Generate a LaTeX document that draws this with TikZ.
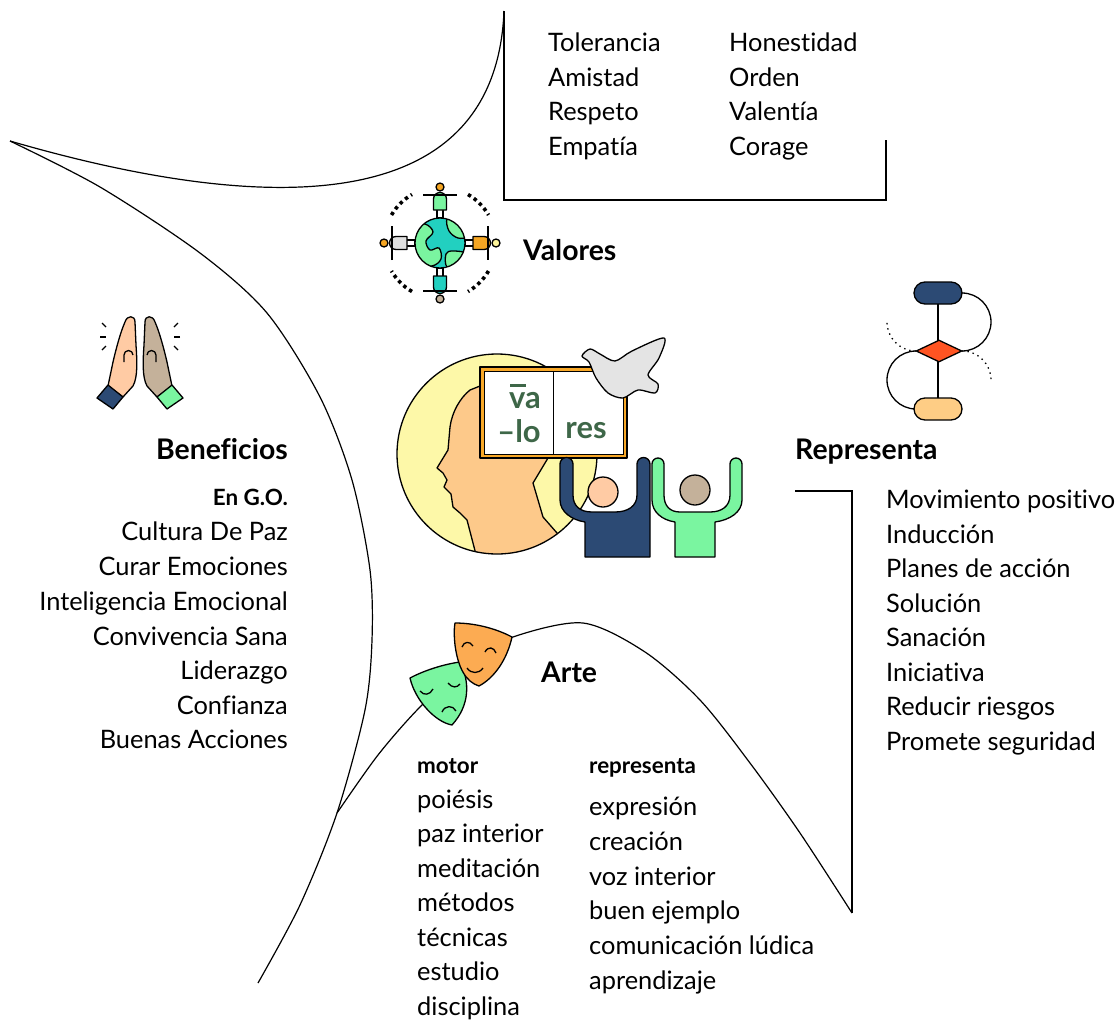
\documentclass[tikz,border=0pt]{standalone}
\usepackage{fontspec}
\setmainfont{Lato}[Ligatures=NoCommon]
\usetikzlibrary{positioning,calc,shapes.geometric,shapes.misc}

\definecolor{navy}{HTML}{2C4A74}
\definecolor{peach}{HTML}{FFCBA4}
\definecolor{khaki}{HTML}{C4B19A}
\definecolor{mint}{HTML}{7AF5A0}
\definecolor{amber}{HTML}{F8A828}
\definecolor{maskor}{HTML}{FCAB52}
\definecolor{sea}{HTML}{22D0C0}
\definecolor{skin}{HTML}{FDC98A}
\definecolor{halo}{HTML}{FDF8A8}
\definecolor{dovegray}{HTML}{E4E4E4}
\definecolor{flame}{HTML}{FF5422}
\definecolor{sand}{HTML}{FECD85}
\definecolor{leaf}{HTML}{3E6748}
\definecolor{lemon}{HTML}{FDF59A}
\definecolor{ash}{HTML}{E0E0E0}
\definecolor{pinor}{HTML}{F5A623}

\tikzset{
	ink/.style={draw=black, line width=1.3bp, line join=round},
	pics/globepin/.style 2 args={code={
		\draw[ink, fill=white] (-3,-25) rectangle (3,-34);
		\draw[ink, fill=#1] (-6.5,-33) -- (-6.5,-44) arc[start angle=180, end angle=360, radius=6.5] -- (6.5,-33) -- cycle;
		\draw[ink] (-17,-48) -- (17,-48);
		\draw[ink, fill=#2] (0,-56) circle[radius=4];
	}},
}

\begin{document}
\begin{tikzpicture}[x=1bp, y=-1bp]
	\tikzstyle{every node}=[inner sep=0pt]
	\tikzstyle{entry}=[anchor=mid west, yshift=-6bp, font=\fontsize{25.5}{30}\selectfont]
	\tikzstyle{entryr}=[anchor=mid east, yshift=-6bp, font=\fontsize{25.5}{30}\selectfont]
	\tikzstyle{title}=[yshift=-7bp, font=\fontsize{28.5}{32}\selectfont\bfseries]
	\tikzstyle{subtitle}=[yshift=-5bp, font=\fontsize{22.5}{26}\selectfont\bfseries]
	\tikzstyle{bookword}=[font=\fontsize{31}{33}\selectfont\bfseries, text=leaf]
	\tikzstyle{thin}=[line width=1.2bp]

	\useasboundingbox (0,0) rectangle (1116,1020);

	% frame lines
	\coordinate (tip)     at (10,141);
	\coordinate (boxtop)  at (504,11);
	\coordinate (boxbl)   at (504,200);
	\coordinate (boxbr)   at (886,200);
	\coordinate (boxend)  at (886,140);
	\coordinate (artbeg)  at (337,813);
	\coordinate (artend)  at (852,913);
	\coordinate (repcor)  at (852,491);
	\coordinate (repstub) at (795,491);

	\draw [thin] (tip) .. controls (230,205) and (495,235) .. (boxtop);
	\draw [thin] (boxtop) -- (boxbl) -- (boxbr) -- (boxend);
	\draw [thin] plot[smooth] coordinates {(tip) (100,187) (200,253) (267,313) (320,397) (352,480) (370,570) (372,640) (365,710) (artbeg) (300,905) (258,983)};
	\draw [thin] plot[smooth] coordinates {(artbeg) (378,755) (420,707) (470,662) (513,637) (583,623) (645,652) (700,700) (750,763) (800,833) (artend)};
	\draw [thin] (artend) -- (repcor) -- (repstub);

	% valores list
	\node[entry] (tol) at (548,43)  {Tolerancia};
	\node[entry] (ami) at (548,78)  {Amistad};
	\node[entry] (res) at (548,112) {Respeto};
	\node[entry] (emp) at (548,147) {Empatía};
	\node[entry] (hon) at (729,43)  {Honestidad};
	\node[entry] (ord) at (729,78)  {Orden};
	\node[entry] (val) at (729,112) {Valentía};
	\node[entry] (cor) at (729,147) {Corage};

	% globe
	\coordinate (gc) at (440,243);
	\foreach \a in {30,120,210,300}
		\draw[line width=3.6bp, dash pattern=on 3.4bp off 3.6bp] ($(gc)+(\a:56)$) arc[start angle=\a, end angle=\a+30, radius=56];
	\pic[rotate=0]   at (gc) {globepin={mint}{pinor}};
	\pic[rotate=-90] at (gc) {globepin={pinor}{lemon}};
	\pic[rotate=180] at (gc) {globepin={sea}{khaki}};
	\pic[rotate=90]  at (gc) {globepin={ash}{pinor}};
	\node[circle, fill=sea, minimum size=50bp] (globe) at (gc) {};
	\begin{scope}
		\clip (gc) circle[radius=25];
		\draw[ink, fill=mint] plot[smooth cycle, tension=0.6] coordinates {(410,226) (425,224) (433,232) (426,241) (430,250) (439,248) (441,259) (432,266) (416,264) (410,246)};
		\draw[ink, fill=mint] plot[smooth cycle, tension=0.6] coordinates {(447,219) (449,231) (458,238) (468,236) (467,224) (456,218)};
		\draw[ink, fill=mint] plot[smooth cycle, tension=0.6] coordinates {(446,254) (453,251) (467,254) (460,267) (447,267)};
	\end{scope}
	\draw[ink] (gc) circle[radius=25];
	\node[title, anchor=mid west] (valores) at (523,251) {Valores};

	% hands
	\coordinate (hands) at (140,360);
	\foreach \s in {1,-1}{
		\begin{scope}[shift={(140,0)}, xscale=\s]
			\draw[ink, line width=1.2bp] (-38,323) -- (-34,327);
			\draw[ink, line width=1.2bp] (-40,337) -- (-34,337);
			\draw[ink, line width=1.2bp] (-38,350) -- (-34,346);
		\end{scope}
	}
	\draw[ink, fill=peach] (108,386) -- (113,362) .. controls (117,345) and (121,331) .. (125,322) .. controls (127,315) and (135,315) .. (135,322) -- (136,345) .. controls (137,360) and (138,377) .. (133,386) -- (123,397) -- cycle;
	\draw[ink] (124,362) -- (124,355) arc[start angle=180, end angle=360, radius=4.5];
	\draw[ink, fill=navy] (97,398) -- (108,385) -- (123,397) -- (113,409) -- cycle;
	\begin{scope}[shift={(280,0)}, xscale=-1]
		\draw[ink, fill=khaki] (108,386) -- (113,362) .. controls (117,345) and (121,331) .. (125,322) .. controls (127,315) and (135,315) .. (135,322) -- (136,345) .. controls (137,360) and (138,377) .. (133,386) -- (123,397) -- cycle;
		\draw[ink] (124,362) -- (124,355) arc[start angle=180, end angle=360, radius=4.5];
		\draw[ink, fill=mint] (97,398) -- (108,385) -- (123,397) -- (113,409) -- cycle;
	\end{scope}

	% beneficios list
	\node[title, anchor=mid east] (ben) at (288,450) {Beneficios};
	\node[subtitle, anchor=mid east] (engo) at (288,498) {En G.O.};
	\node[entryr] (cdp) at (288,532) {Cultura De Paz};
	\node[entryr] (cem) at (288,567) {Curar Emociones};
	\node[entryr] (iem) at (288,602) {Inteligencia Emocional};
	\node[entryr] (cvs) at (288,637) {Convivencia Sana};
	\node[entryr] (lid) at (288,671) {Liderazgo};
	\node[entryr] (con) at (288,706) {Confianza};
	\node[entryr] (bac) at (288,740) {Buenas Acciones};

	% flow chart
	\draw[ink] (962,293) arc[start angle=-90, end angle=90, radius=29];
	\draw[ink] (916,351) arc[start angle=-90, end angle=-270, radius=29];
	\draw[line width=1.3bp, dash pattern=on 1.4bp off 4bp] (916,351) arc[start angle=90, end angle=180, radius=29];
	\draw[line width=1.3bp, dash pattern=on 1.4bp off 4bp] (962,351) arc[start angle=-90, end angle=0, radius=29];
	\draw[ink] (938,293) -- (938,409);
	\node[ink, rounded rectangle, fill=navy, minimum width=48bp, minimum height=22bp] (fstart) at (938,293) {};
	\node[ink, diamond, aspect=2.1, fill=flame, minimum width=46bp, minimum height=22bp] (fdec) at (939,351) {};
	\node[ink, rounded rectangle, fill=sand, minimum width=48bp, minimum height=22bp] (fend) at (938,409) {};

	% representa list
	\node[title, anchor=mid west] (rep) at (795,450) {Representa};
	\node[entry] (mov) at (886,500) {Movimiento positivo};
	\node[entry] (ind) at (886,535) {Inducción};
	\node[entry] (pla) at (886,569) {Planes de acción};
	\node[entry] (sol) at (886,604) {Solución};
	\node[entry] (san) at (886,638) {Sanación};
	\node[entry] (ini) at (886,673) {Iniciativa};
	\node[entry] (red) at (886,707) {Reducir riesgos};
	\node[entry] (pro) at (886,742) {Promete seguridad};

	% head, book and people
	\coordinate (sun) at (497,454);
	\fill[halo] (sun) circle[radius=100];
	\begin{scope}
		\clip (sun) circle[radius=100];
		\draw[ink, fill=skin] (548,458) -- (540,420) -- (490,382) -- (470,390) .. controls (460,398) and (452,412) .. (450,427) -- (448,450) -- (437,468) -- (443,473) -- (447,480) -- (444,487) -- (451,494) -- (453,507) -- (460,513) -- (467,520) -- (473,543) -- (480,570) -- (580,570) -- (557,533) -- (543,517) -- (533,483) -- cycle;
	\end{scope}
	\draw[ink] (sun) circle[radius=100];

	\draw[ink, fill=amber] (480,367) rectangle (627,458);
	\draw[line width=0.8bp, fill=white] (484,371) rectangle (553,454);
	\draw[line width=0.8bp, fill=white] (553,371) rectangle (623,454);
	\node[bookword] (va) at (525,401) {va};
	\draw[leaf, line width=2.5bp] ($(va.north west)+(1,-7)$) -- ++(16,0);
	\node[bookword] (lo) at (519,431) {–lo};
	\node[bookword] (res) at (586,431) {res};

	\draw[ink, fill=dovegray] plot[smooth cycle, tension=0.5] coordinates {(582,356) (590,349) (600,354) (615,361) (632,351) (664,338) (659,358) (648,375) (658,384) (655,393) (638,390) (623,398) (608,393) (596,378) (589,362)};

	\draw[ink, fill=navy] (560,464) -- (560,500) .. controls (560,512) and (572,520) .. (585,522) -- (585,557) -- (650,557) -- (650,464) arc[start angle=0, end angle=-180, radius=6.5] -- (637,495) .. controls (637,506) and (628,512) .. (615,512) -- (592,512) .. controls (580,512) and (573,506) .. (573,495) -- (573,464) arc[start angle=0, end angle=-180, radius=6.5] -- cycle;
	\draw[ink, fill=peach] (603,492) circle[radius=15];
	\draw[ink, fill=mint] (652,464) -- (652,500) .. controls (652,512) and (662,520) .. (675,522) -- (675,557) -- (715,557) -- (715,522) .. controls (730,520) and (742,512) .. (742,500) -- (742,464) arc[start angle=0, end angle=-180, radius=6] -- (730,495) .. controls (730,506) and (722,512) .. (710,512) -- (680,512) .. controls (670,512) and (664,506) .. (664,495) -- (664,464) arc[start angle=0, end angle=-180, radius=6] -- cycle;
	\draw[ink, fill=khaki] (695,490) circle[radius=15];

	% masks
	\draw[ink, fill=mint] (410,678) .. controls (425,670) and (445,664) .. (460,662) .. controls (470,682) and (470,705) .. (452,725) .. controls (435,722) and (415,700) .. (410,678) -- cycle;
	\draw[ink] (420,691) .. controls (424,696) and (430,695) .. (433,689);
	\draw[ink] (448,683) .. controls (452,688) and (457,688) .. (460,684);
	\draw[ink] (442,712) .. controls (445,705) and (453,705) .. (456,711);
	\draw[ink, fill=maskor] (455,623) .. controls (474,623) and (495,628) .. (512,637) .. controls (507,660) and (494,678) .. (479,686) .. controls (466,682) and (458,668) .. (455,645) .. controls (454,635) and (454,628) .. (455,623) -- cycle;
	\draw[ink] (462,647) .. controls (464,641) and (470,641) .. (473,646);
	\draw[ink] (485,652) .. controls (488,646) and (494,647) .. (496,653);
	\draw[ink] (467,668) .. controls (471,674) and (479,674) .. (483,668);

	% arte lists
	\node[title, anchor=mid west] (arte) at (541,673) {Arte};
	\node[subtitle, anchor=mid west] (mot) at (417,766) {motor};
	\node[entry] (poi) at (417,800)  {poiésis};
	\node[entry] (paz) at (417,834)  {paz interior};
	\node[entry] (med) at (417,869)  {meditación};
	\node[entry] (met) at (417,903)  {métodos};
	\node[entry] (tec) at (417,938)  {técnicas};
	\node[entry] (est) at (417,972)  {estudio};
	\node[entry] (dis) at (417,1007) {disciplina};
	\node[subtitle, anchor=mid west] (rpa) at (589,766) {representa};
	\node[entry] (exr) at (589,807) {expresión};
	\node[entry] (cre) at (589,842) {creación};
	\node[entry] (voz) at (589,877) {voz interior};
	\node[entry] (bej) at (589,911) {buen ejemplo};
	\node[entry] (com) at (589,946) {comunicación lúdica};
	\node[entry] (apr) at (589,981) {aprendizaje};
\end{tikzpicture}
\end{document}
